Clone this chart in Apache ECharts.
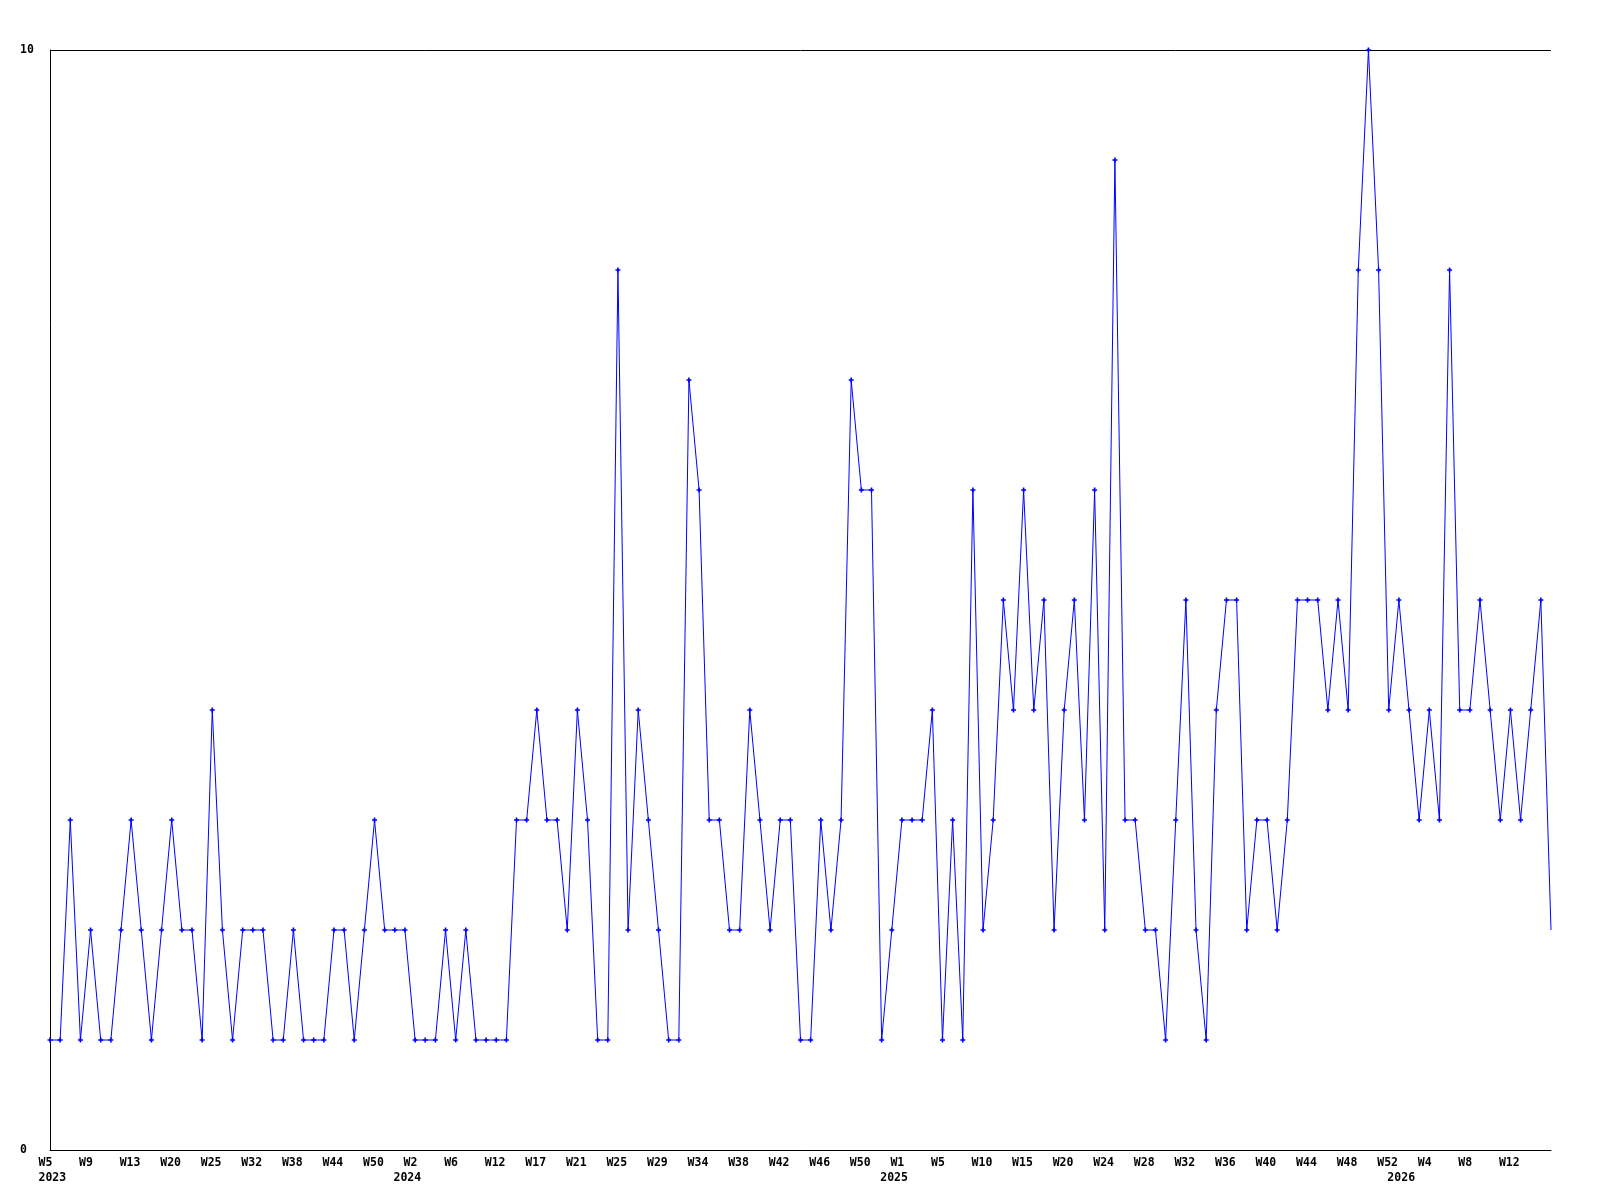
<!DOCTYPE html>
<html><head><meta charset="utf-8">
<script src="https://cdn.jsdelivr.net/npm/echarts@6/dist/echarts.min.js"></script>
<style>html,body{margin:0;padding:0;background:#fff}#c{width:1600px;height:1200px}</style>
</head><body><div id="c"></div>
<script>
const categories = [
  '2023-W05','2023-W06','2023-W07','2023-W08','2023-W09','2023-W10','2023-W11','2023-W12','2023-W13','2023-W15',
  '2023-W17','2023-W18','2023-W20','2023-W21','2023-W22','2023-W23','2023-W25','2023-W26','2023-W28','2023-W30',
  '2023-W32','2023-W33','2023-W35','2023-W36','2023-W38','2023-W39','2023-W41','2023-W42','2023-W44','2023-W45',
  '2023-W47','2023-W48','2023-W50','2023-W51','2023-W52',
  '2024-W01','2024-W02','2024-W03','2024-W04','2024-W05','2024-W06','2024-W07','2024-W09','2024-W10','2024-W12',
  '2024-W13','2024-W14','2024-W15','2024-W17','2024-W18','2024-W19','2024-W20','2024-W21','2024-W22','2024-W23',
  '2024-W24','2024-W25','2024-W26','2024-W27','2024-W28','2024-W29','2024-W30','2024-W31','2024-W32','2024-W34',
  '2024-W35','2024-W36','2024-W37','2024-W38','2024-W39','2024-W40','2024-W41','2024-W42','2024-W43','2024-W44',
  '2024-W45','2024-W46','2024-W47','2024-W48','2024-W49','2024-W50','2024-W51','2024-W52',
  '2025-W00','2025-W01','2025-W02','2025-W03','2025-W04','2025-W05','2025-W06','2025-W07','2025-W09','2025-W10',
  '2025-W11','2025-W12','2025-W13','2025-W15','2025-W16','2025-W17','2025-W18','2025-W20','2025-W21','2025-W22',
  '2025-W23','2025-W24','2025-W25','2025-W26','2025-W27','2025-W28','2025-W29','2025-W30','2025-W31','2025-W32',
  '2025-W33','2025-W34','2025-W35','2025-W36','2025-W37','2025-W38','2025-W39','2025-W40','2025-W41','2025-W42',
  '2025-W43','2025-W44','2025-W45','2025-W46','2025-W47','2025-W48','2025-W49','2025-W50','2025-W51','2025-W52',
  '2026-W01','2026-W02','2026-W03','2026-W04','2026-W05','2026-W06','2026-W07','2026-W08','2026-W09','2026-W10',
  '2026-W11','2026-W12','2026-W13','2026-W14','2026-W15','2026-W16'
];
const counts = [
  1,1,3,1,2,1,1,2,3,2,
  1,2,3,2,2,1,4,2,1,2,
  2,2,1,1,2,1,1,1,2,2,
  1,2,3,2,2,2,1,1,1,2,
  1,2,1,1,1,1,3,3,4,3,
  3,2,4,3,1,1,8,2,4,3,
  2,1,1,7,6,3,3,2,2,4,
  3,2,3,3,1,1,3,2,3,7,
  6,6,1,2,3,3,3,4,1,3,
  1,6,2,3,5,4,6,4,5,2,
  4,5,3,6,2,9,3,3,2,2,
  1,3,5,2,1,4,5,5,2,3,
  3,2,3,5,5,5,4,5,4,8,
  10,8,4,5,4,3,4,3,8,4,
  4,5,4,3,4,3,4,5,2
];
const yMin = 0, yMax = 10;

const FONT = '"DejaVu Sans Mono", "Liberation Mono", monospace';
const plus = 'path://M2,0H4V2H6V4H4V6H2V4H0V2H2Z';
function weekOf(c){ return 'W' + parseInt(c.split('-W')[1], 10); }
function yearOf(c){ return c.split('-W')[0]; }
function isYearStart(i){ return i === 0 || yearOf(categories[i]) !== yearOf(categories[i-1]); }
function showWeek(i){ return i % 4 === 0 && i < categories.length - 1; }

const chart = echarts.init(document.getElementById('c'), null, {renderer: 'canvas'});
chart.setOption({
  animation: false,
  backgroundColor: '#ffffff',
  grid: {left: 50, right: 49, top: 50, bottom: 50, containLabel: false},
  xAxis: {
    type: 'category', data: categories, boundaryGap: false,
    axisLine: {show: true, lineStyle: {color: '#000', width: 1}},
    axisTick: {show: false},
    splitLine: {show: false},
    axisLabel: {
      interval: function (i) { return showWeek(i) || isYearStart(i); },
      margin: 5, align: 'center', verticalAlign: 'top',
      formatter: function (v, i) {
        let s = '{a|' + (showWeek(i) ? weekOf(v) : '\u00a0') + '}';
        if (isYearStart(i)) s += '\n{a|' + yearOf(v) + '}';
        return s;
      },
      rich: {a: {width: 23, align: 'left', fontFamily: FONT, fontWeight: 'bold', fontSize: 11.5, lineHeight: 15.5, color: '#000'}}
    }
  },
  yAxis: {
    type: 'value', min: yMin, max: yMax, interval: 10,
    axisLine: {show: true, lineStyle: {color: '#000', width: 1}},
    axisTick: {show: false},
    splitLine: {show: true, lineStyle: {color: '#000', width: 1}},
    axisLabel: {margin: 30, align: 'left', padding: [3, 0, 0, 0], fontFamily: FONT, fontWeight: 'bold', fontSize: 11.5, color: '#000'}
  },
  series: [{
    type: 'line', data: counts,
    symbol: function (val, params) { return params.dataIndex === counts.length - 1 ? 'none' : plus; },
    symbolSize: 5,
    color: '#0000ff',
    itemStyle: {color: '#0000ff'},
    lineStyle: {color: '#0000ff', width: 1},
    emphasis: {disabled: true}
  }]
});
</script>
</body></html>
